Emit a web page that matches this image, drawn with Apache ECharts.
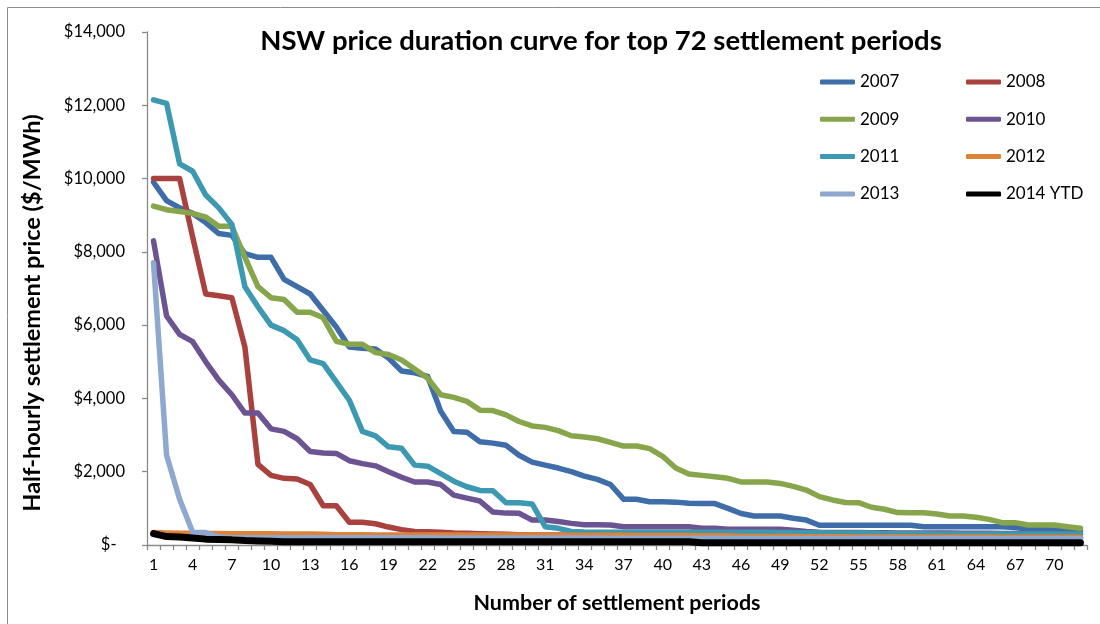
<!DOCTYPE html>
<html><head><meta charset="utf-8">
<script src="https://cdn.jsdelivr.net/npm/echarts@6/dist/echarts.min.js"></script>
<style>html,body{margin:0;padding:0;background:#fff}#c{width:1100px;height:624px}</style>
</head><body><div id="c"></div>
<script>
// ---- data ----
const periods = ['1','2','3','4','5','6','7','8','9','10','11','12','13','14','15','16','17','18','19','20',
  '21','22','23','24','25','26','27','28','29','30','31','32','33','34','35','36','37','38','39','40',
  '41','42','43','44','45','46','47','48','49','50','51','52','53','54','55','56','57','58','59','60',
  '61','62','63','64','65','66','67','68','69','70','71','72'];

const y2007 = [9900,9400,9200,9050,8800,8500,8450,7950,7850,7850,7250,7050,6850,6400,5950,5400,5370,5350,5100,4750,
  4700,4600,3650,3100,3080,2820,2780,2720,2450,2260,2180,2100,2000,1880,1790,1650,1250,1250,1180,1180,
  1170,1140,1130,1130,1000,860,790,790,790,730,680,540,540,540,540,540,540,540,540,500,
  500,500,500,500,500,500,480,430,420,410,400,390];

const y2008 = [10000,10000,10000,8400,6850,6800,6750,5400,2200,1900,1820,1800,1650,1070,1070,620,620,580,490,420,
  370,360,350,330,320,310,300,290,280,275,270,270,265,265,260,260,260,255,255,255,
  250,250,250,245,245,240,240,240,240,235,235,235,230,230,230,230,230,225,225,225,
  225,220,220,220,220,220,215,215,215,215,210,210];

const y2009 = [9250,9150,9100,9050,8950,8700,8700,7850,7050,6750,6700,6350,6350,6200,5560,5480,5480,5250,5200,5050,
  4800,4550,4100,4030,3920,3680,3670,3550,3370,3250,3210,3120,2980,2950,2900,2800,2700,2700,2630,2420,
  2100,1940,1900,1865,1820,1720,1720,1720,1680,1600,1500,1320,1230,1160,1155,1030,975,885,882,880,
  846,790,790,755,700,610,610,546,546,546,500,455];

const y2010 = [8300,6250,5750,5550,5000,4500,4100,3600,3600,3170,3100,2900,2550,2510,2500,2300,2220,2160,2000,1850,
  1720,1720,1650,1360,1280,1200,900,870,865,680,680,640,590,550,550,545,500,500,500,500,
  500,500,460,455,430,430,430,430,430,400,370,350,340,340,340,335,335,330,330,330,
  325,325,320,320,320,315,315,310,310,305,305,300];

const y2011 = [12150,12050,10400,10200,9550,9200,8750,7050,6500,6000,5850,5600,5050,4950,4450,3950,3100,2980,2680,2640,
  2180,2150,1950,1740,1590,1490,1480,1155,1155,1120,500,455,370,355,350,350,350,350,350,350,
  350,350,350,350,350,345,345,345,340,340,335,335,330,330,330,330,310,305,305,305,
  300,300,300,300,300,300,300,300,300,300,300,300];

const y2012 = [340,330,320,320,315,315,310,310,305,305,300,300,300,290,280,280,280,275,275,275,
  275,275,275,270,270,270,270,270,270,270,265,265,265,265,265,265,265,260,260,260,
  260,260,255,255,250,235,230,230,230,230,225,225,225,225,220,220,220,220,220,220,
  215,215,215,215,215,210,210,210,210,210,210,210];

const y2013 = [7700,2450,1250,350,340,220,200,200,200,200,200,200,200,200,195,195,195,195,195,195,
  195,195,190,190,190,190,190,190,190,190,190,190,190,190,190,185,185,185,185,185,
  185,185,185,185,185,180,180,180,180,180,180,180,180,180,175,175,175,175,175,175,
  175,175,175,175,175,170,170,170,170,170,170,170];

const y2014 = [310,230,220,190,160,150,140,120,110,100,90,90,90,90,90,90,90,90,90,90,
  90,90,90,90,90,90,90,90,90,90,90,90,90,90,90,90,90,90,90,90,
  90,90,60,60,60,60,60,60,60,60,60,60,60,60,60,60,60,60,60,60,
  60,60,60,60,60,60,60,60,60,60,60,60];

const seriesNames = ['2007','2008','2009','2010','2011','2012','2013','2014 YTD'];
const seriesData = [y2007,y2008,y2009,y2010,y2011,y2012,y2013,y2014];

// ---- styles ----
const colors = ['#3F6DA9','#A9423F','#87A54A','#6C5391','#3C99B1','#DE8236','#8EA8D0','#000000'];
const widths = [5.5,5.5,5.5,5.5,5.5,5.5,5.5,7];
const FONT = 'Lato';

const chart = echarts.init(document.getElementById('c'), null, {renderer:'canvas'});

const series = seriesNames.map((n,i)=>({
  name:n, type:'line', data:seriesData[i], symbol:'none', showSymbol:false,
  itemStyle:{color:colors[i]},
  lineStyle:{color:colors[i], width:widths[i], cap:'round', join:'round'},
  emphasis:{disabled:true}, animation:false, z:2+i
}));

const legendCommon = {
  orient:'vertical', top:72, padding:0, itemWidth:35, itemHeight:5, itemGap:17.3, itemTextGap:2,
  icon:'roundRect', selectedMode:false,
  textStyle:{fontFamily:FONT, fontSize:17, color:'#000', lineHeight:20}
};

chart.setOption({
  backgroundColor:'#fff',
  animation:false,
  title:{
    text:'NSW price duration curve for top 72 settlement periods',
    left:601, top:27, padding:0, textAlign:'center',
    textStyle:{fontFamily:FONT, fontSize:27.5, fontWeight:'bold', color:'#000'}
  },
  legend:[
    Object.assign({data:['2007','2009','2011','2013'], left:820}, legendCommon),
    Object.assign({data:['2008','2010','2012','2014 YTD'], left:966}, legendCommon)
  ],
  grid:{left:147, right:13, top:32, bottom:79, containLabel:false},
  xAxis:{
    type:'category', data:periods, boundaryGap:true,
    name:'Number of settlement periods', nameLocation:'middle', nameGap:47,
    nameTextStyle:{fontFamily:FONT, fontSize:21.5, fontWeight:'bold', color:'#000'},
    axisLine:{lineStyle:{color:'#8a8a8a', width:1.3}},
    axisTick:{show:true, interval:0, length:5, lineStyle:{color:'#8a8a8a', width:1.3}},
    axisLabel:{interval:2, fontFamily:FONT, fontSize:16, color:'#000', margin:12},
    splitLine:{show:false}
  },
  yAxis:{
    type:'value', min:0, max:14000, interval:2000,
    axisLine:{show:true, lineStyle:{color:'#8a8a8a', width:1.3}},
    axisTick:{show:true, length:5, lineStyle:{color:'#8a8a8a', width:1.3}},
    axisLabel:{fontFamily:FONT, fontSize:16.5, color:'#000', margin:22,
      formatter:v=> v===0 ? '$-  ' : '$'+v.toLocaleString('en-US')},
    splitLine:{show:false}
  },
  graphic:[
    {type:'line', shape:{x1:7.5,y1:7.5,x2:7.5,y2:624}, style:{stroke:'#8c8c8c', lineWidth:1}, silent:true},
    {type:'line', shape:{x1:7.5,y1:7.5,x2:1100,y2:7.5}, style:{stroke:'#8c8c8c', lineWidth:1}, silent:true},
    {type:'text', x:32, y:313, rotation:Math.PI/2, silent:true,
      style:{text:'Half-hourly settlement price ($/MWh)', fontFamily:FONT, fontSize:23.5, fontWeight:'bold',
        fill:'#000', align:'center', verticalAlign:'middle'}}
  ],
  series:series
});
</script></body></html>
